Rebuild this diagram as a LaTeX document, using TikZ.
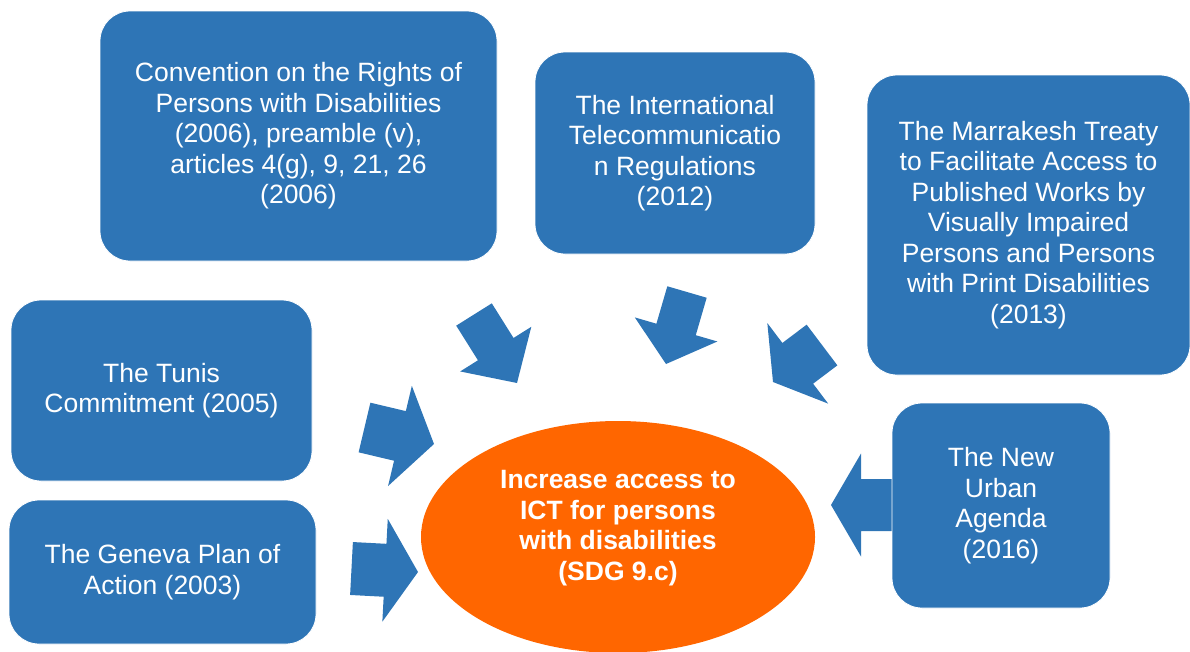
\documentclass[tikz,border=0pt]{standalone}
\usepackage{fontspec}
\setmainfont{Liberation Sans}
\usepackage{xcolor}
\usepackage{tikz}
\usetikzlibrary{shapes.geometric, calc}

\definecolor{boxblue}{HTML}{2E75B6}
\definecolor{goalorange}{HTML}{FF6600}

% tail, tip, half shaft, half head, head length
\newcommand{\blockarrow}[6]{%
  \coordinate (#1-base) at ($(#3)!#6!(#2)$);
  \fill[boxblue] ($(#2)!#4!90:(#3)$) -- ($(#1-base)!#4!-90:(#2)$)
    -- ($(#1-base)!#5!-90:(#2)$) -- (#3)
    -- ($(#1-base)!#5!90:(#2)$) -- ($(#1-base)!#4!90:(#2)$)
    -- ($(#2)!#4!-90:(#3)$) -- cycle;}

\begin{document}
\begin{tikzpicture}[x=1pt, y=-1pt,
    treaty/.style={rectangle, rounded corners=30pt, fill=boxblue,
                   draw=white, line width=0.8pt, text=white,
                   align=center, inner sep=0pt,
                   font=\fontsize{26.5}{30.5}\selectfont},
    goal/.style={ellipse, fill=goalorange, inner sep=0pt,
                 minimum width=394pt, minimum height=232pt},
    goaltext/.style={text=white, align=center, inner sep=0pt,
                     font=\fontsize{26.5}{30.5}\selectfont\bfseries}
]
\useasboundingbox (0,0) rectangle (1190,651);

\coordinate (crpd-tail)   at (474,314.5);
\coordinate (crpd-tip)    at (517,383);
\coordinate (itr-tail)    at (687,292);
\coordinate (itr-tip)     at (666,364);
\coordinate (marr-tail)   at (822,345);
\coordinate (marr-tip)    at (773,382);
\coordinate (tunis-tail)  at (364.5,427.5);
\coordinate (tunis-tip)   at (434,444);
\coordinate (geneva-tail) at (351.5,568.5);
\coordinate (geneva-tip)  at (418,572);
\coordinate (urban-tail)  at (900,505);
\coordinate (urban-tip)   at (831,505);

\blockarrow{crpd-arr}{crpd-tail}{crpd-tip}{21pt}{42pt}{40pt}
\blockarrow{itr-arr}{itr-tail}{itr-tip}{20.5pt}{43pt}{36pt}
\blockarrow{marr-arr}{marr-tail}{marr-tip}{25.5pt}{50.5pt}{31pt}
\blockarrow{tunis-arr}{tunis-tail}{tunis-tip}{25.5pt}{51.5pt}{35pt}
\blockarrow{geneva-arr}{geneva-tail}{geneva-tip}{26.5pt}{51.5pt}{33pt}
\blockarrow{urban-arr}{urban-tail}{urban-tip}{26pt}{51.5pt}{30pt}

\node (crpd)   [treaty, minimum width=397pt, minimum height=250pt] at (298.5,136)
    {Convention on the Rights of\\Persons with Disabilities\\(2006), preamble (v),\\articles 4(g), 9, 21, 26\\(2006)};
\node (itr)    [treaty, minimum width=280pt, minimum height=202pt] at (675,153)
    {The International\\Telecommunicatio\\n Regulations\\(2012)};
\node (marr)   [treaty, minimum width=323pt, minimum height=300pt] at (1028.5,225)
    {The Marrakesh Treaty\\to Facilitate Access to\\Published Works by\\Visually Impaired\\Persons and Persons\\with Print Disabilities\\(2013)};
\node (tunis)  [treaty, minimum width=301pt, minimum height=181pt] at (161.5,390.5)
    {The Tunis\\Commitment (2005)};
\node (geneva) [treaty, minimum width=307pt, minimum height=144pt] at (162.5,572)
    {The Geneva Plan of\\Action (2003)};
\node (urban)  [treaty, minimum width=218pt, minimum height=205pt] at (1001,505.5)
    {The New\\Urban\\Agenda\\(2016)};

\node (goal)     [goal] at (618,537) {};
\node (goaltext) [goaltext] at (618,528)
    {Increase access to\\ICT for persons\\with disabilities\\(SDG 9.c)};
\end{tikzpicture}
\end{document}
